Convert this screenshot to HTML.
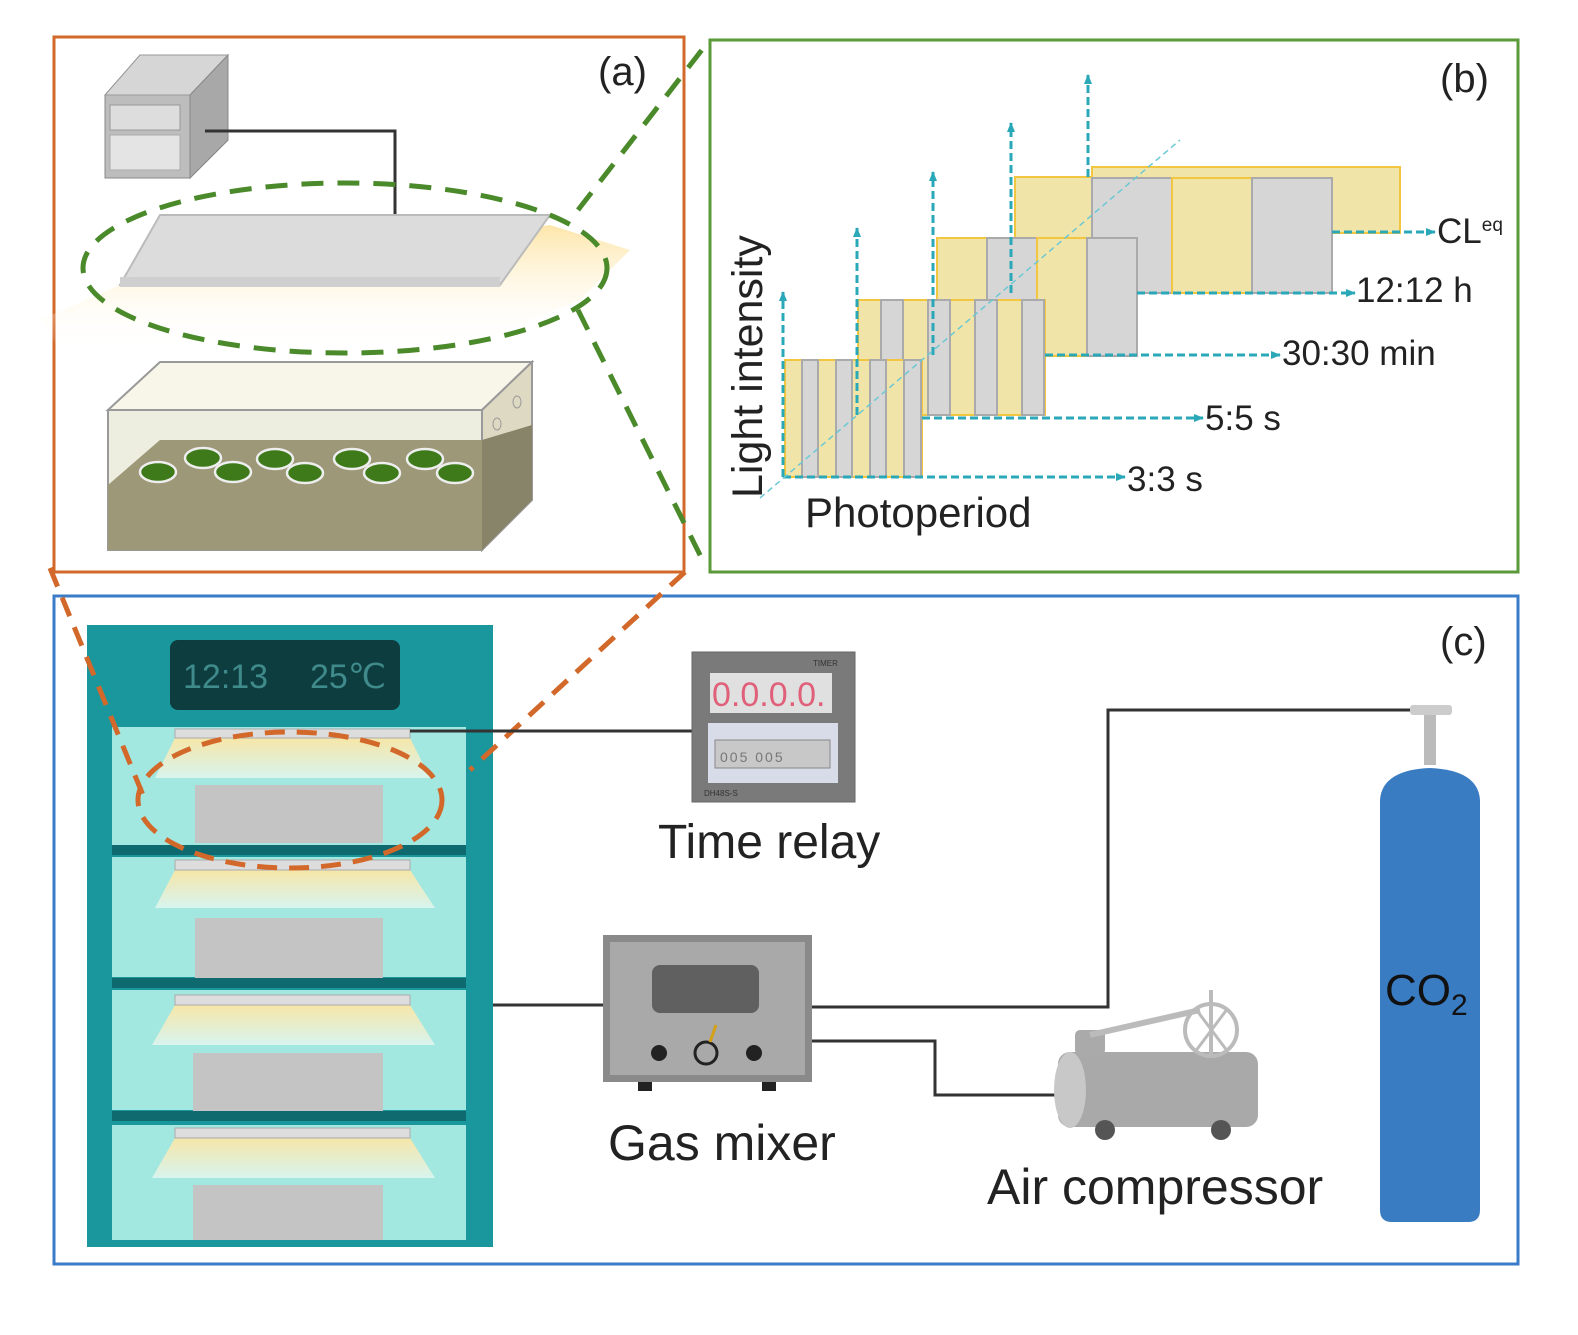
<!DOCTYPE html>
<html><head><meta charset="utf-8"><style>html,body{margin:0;padding:0;background:#fff}svg{display:block}text{font-family:"Liberation Sans",sans-serif}</style></head>
<body>
<svg width="1578" height="1335" viewBox="0 0 1578 1335" xmlns="http://www.w3.org/2000/svg">
<defs>
<linearGradient id="glow" x1="0" y1="0" x2="0" y2="1"><stop offset="0" stop-color="#fde3a0"/><stop offset="1" stop-color="#fff" stop-opacity="0"/></linearGradient>
<linearGradient id="glow2" x1="0" y1="0" x2="0" y2="1"><stop offset="0" stop-color="#f6e6a8"/><stop offset="1" stop-color="#d8f4ee"/></linearGradient>
<marker id="ar" markerUnits="userSpaceOnUse" markerWidth="12" markerHeight="12" refX="9" refY="6" orient="auto"><path d="M0,2 L10,6 L0,10z" fill="#2aa8b8"/></marker>
</defs>

<!-- Panel A -->
<rect x="54" y="37" width="630" height="535" fill="none" stroke="#d2692a" stroke-width="3"/>
<text x="598" y="85" font-size="40" fill="#222">(a)</text>
<polygon points="105,95 140,55 228,55 228,140 190,178 105,178" fill="#bdbdbd" stroke="#888"/>
<polygon points="105,95 140,55 228,55 190,95" fill="#d6d6d6" stroke="#999"/>
<polygon points="190,95 228,55 228,140 190,178" fill="#a8a8a8" stroke="#888"/>
<rect x="110" y="105" width="70" height="25" fill="#ddd" stroke="#999"/>
<rect x="110" y="135" width="70" height="35" fill="#e4e4e4" stroke="#aaa"/>
<polyline points="205,131 395,131 395,216" fill="none" stroke="#333" stroke-width="3"/>
<polygon points="40,320 120,285 550,225 630,250 580,300 470,345 60,350" fill="url(#glow)" opacity="0.9"/>
<polygon points="120,285 160,215 550,215 500,285" fill="#dcdcdc" stroke="#bbb" stroke-width="2"/>
<rect x="120" y="277" width="380" height="10" fill="#cfcfcf"/>
<polygon points="108,410 160,362 532,362 482,410" fill="#f7f6e8" stroke="#999" stroke-width="2"/>
<rect x="108" y="410" width="374" height="140" fill="#eeeee0" stroke="#999" stroke-width="2"/>
<polygon points="482,410 532,362 532,500 482,550" fill="#ddd9c2" stroke="#999" stroke-width="2"/>
<polygon points="108,485 160,440 482,440 482,550 108,550" fill="#9c9878"/>
<polygon points="482,440 532,425 532,500 482,550" fill="#87846a"/>
<g fill="#3f7a1a" stroke="#eee" stroke-width="2.5">
<ellipse cx="158" cy="472" rx="18" ry="10"/><ellipse cx="203" cy="458" rx="18" ry="10"/><ellipse cx="233" cy="472" rx="18" ry="10"/>
<ellipse cx="275" cy="459" rx="18" ry="10"/><ellipse cx="305" cy="473" rx="18" ry="10"/><ellipse cx="352" cy="459" rx="18" ry="10"/>
<ellipse cx="382" cy="473" rx="18" ry="10"/><ellipse cx="425" cy="459" rx="18" ry="10"/><ellipse cx="455" cy="473" rx="18" ry="10"/>
</g>
<ellipse cx="497" cy="424" rx="4" ry="6" fill="none" stroke="#999"/><ellipse cx="517" cy="402" rx="4" ry="6" fill="none" stroke="#999"/>
<g stroke="#4a8a2a" stroke-width="5" stroke-dasharray="22,14" fill="none">
<ellipse cx="345" cy="268" rx="262" ry="85"/>
<line x1="578" y1="210" x2="708" y2="42"/>
<line x1="578" y1="310" x2="705" y2="565"/>
</g>

<!-- Panel B -->
<rect x="710" y="40" width="808" height="532" fill="none" stroke="#5a9a3a" stroke-width="3"/>
<text x="1440" y="92" font-size="40" fill="#222">(b)</text>
<g stroke-width="2">
<rect x="1092" y="167" width="308" height="66" fill="#f1e4a8" stroke="#f2c640"/>
<rect x="1015" y="177" width="77" height="116" fill="#f1e4a8" stroke="#f2c640"/>
<rect x="1092" y="178" width="80" height="115" fill="#d6d6d6" stroke="#aaa"/>
<rect x="1172" y="178" width="80" height="115" fill="#f1e4a8" stroke="#f2c640"/>
<rect x="1252" y="178" width="80" height="115" fill="#d6d6d6" stroke="#aaa"/>
<rect x="937" y="238" width="50" height="118" fill="#f1e4a8" stroke="#f2c640"/>
<rect x="987" y="238" width="50" height="118" fill="#d6d6d6" stroke="#aaa"/>
<rect x="1037" y="238" width="50" height="118" fill="#f1e4a8" stroke="#f2c640"/>
<rect x="1087" y="238" width="50" height="118" fill="#d6d6d6" stroke="#aaa"/>
<rect x="858" y="300" width="187" height="115" fill="#f1e4a8" stroke="#f2c640"/>
<g fill="#d6d6d6" stroke="#aaa"><rect x="881" y="300" width="22" height="115"/><rect x="928" y="300" width="22" height="115"/><rect x="975" y="300" width="22" height="115"/><rect x="1022" y="300" width="22" height="115"/></g>
<rect x="785" y="360" width="137" height="117" fill="#f1e4a8" stroke="#f2c640"/>
<g fill="#d6d6d6" stroke="#aaa"><rect x="802" y="360" width="16" height="117"/><rect x="836" y="360" width="16" height="117"/><rect x="870" y="360" width="16" height="117"/><rect x="904" y="360" width="17" height="117"/></g>
</g>
<g stroke="#2aa8b8" stroke-width="3" stroke-dasharray="8,4" fill="none" marker-end="url(#ar)">
<line x1="783" y1="477" x2="783" y2="292"/>
<line x1="857" y1="415" x2="857" y2="228"/>
<line x1="933" y1="355" x2="933" y2="172"/>
<line x1="1011" y1="293" x2="1011" y2="123"/>
<line x1="1088" y1="177" x2="1088" y2="75"/>
<line x1="783" y1="477" x2="1125" y2="477"/>
<line x1="922" y1="418" x2="1203" y2="418"/>
<line x1="1045" y1="355" x2="1280" y2="355"/>
<line x1="1137" y1="293" x2="1355" y2="293"/>
<line x1="1332" y1="232" x2="1435" y2="232"/>
</g>
<line x1="760" y1="498" x2="1180" y2="140" stroke="#6cc8d4" stroke-width="1.5" stroke-dasharray="6,4"/>
<g font-size="35" fill="#222">
<text x="1127" y="491">3:3 s</text><text x="1205" y="430">5:5 s</text><text x="1282" y="365">30:30 min</text>
<text x="1356" y="302">12:12 h</text><text x="1437" y="243">CL<tspan font-size="19" dy="-12">eq</tspan></text>
<text x="805" y="527" font-size="42">Photoperiod</text>
<text transform="translate(762,498) rotate(-90)" font-size="43">Light intensity</text>
</g>

<!-- Panel C -->
<rect x="54" y="596" width="1464" height="668" fill="none" stroke="#3a7cc8" stroke-width="3"/>
<text x="1440" y="655" font-size="40" fill="#222">(c)</text>
<rect x="87" y="625" width="406" height="622" fill="#19979d"/>
<rect x="170" y="640" width="230" height="70" rx="8" fill="#0e3d40"/>
<text x="183" y="688" font-size="34" fill="#3f8a8a">12:13</text><text x="310" y="688" font-size="34" fill="#3f8a8a">25℃</text>
<g>
<rect x="112" y="727" width="354" height="118" fill="#a2e8e0"/>
<rect x="112" y="857" width="354" height="120" fill="#a2e8e0"/>
<rect x="112" y="990" width="354" height="120" fill="#a2e8e0"/>
<rect x="112" y="1125" width="354" height="115" fill="#a2e8e0"/>
<rect x="112" y="845" width="354" height="10" fill="#0f6a70"/>
<rect x="112" y="978" width="354" height="10" fill="#0f6a70"/>
<rect x="112" y="1111" width="354" height="10" fill="#0f6a70"/>
</g>
<g>
<polygon points="175,738 410,738 430,778 155,778" fill="url(#glow2)"/>
<rect x="175" y="729" width="235" height="9" fill="#ddd" stroke="#aaa"/>
<rect x="195" y="785" width="188" height="58" fill="#c4c4c4"/>
<polygon points="175,870 410,870 435,908 155,908" fill="url(#glow2)"/>
<rect x="175" y="860" width="235" height="10" fill="#ddd" stroke="#aaa"/>
<rect x="195" y="918" width="188" height="60" fill="#c4c4c4"/>
<polygon points="175,1005 410,1005 435,1045 152,1045" fill="url(#glow2)"/>
<rect x="175" y="995" width="235" height="10" fill="#ddd" stroke="#aaa"/>
<rect x="193" y="1053" width="190" height="58" fill="#c4c4c4"/>
<polygon points="175,1138 410,1138 435,1178 152,1178" fill="url(#glow2)"/>
<rect x="175" y="1128" width="235" height="10" fill="#ddd" stroke="#aaa"/>
<rect x="193" y="1185" width="190" height="55" fill="#c4c4c4"/>
</g>
<g stroke="#d2692a" stroke-width="5" stroke-dasharray="20,12" fill="none">
<ellipse cx="290" cy="800" rx="152" ry="68"/>
<line x1="50" y1="568" x2="145" y2="800"/>
<line x1="685" y1="572" x2="470" y2="770"/>
</g>
<g stroke="#333" stroke-width="3" fill="none">
<line x1="410" y1="731" x2="692" y2="731"/>
<line x1="493" y1="1005" x2="603" y2="1005"/>
<polyline points="812,1007 1108,1007 1108,710 1420,710"/>
<polyline points="812,1041 935,1041 935,1095 1055,1095"/>
</g>
<rect x="692" y="652" width="163" height="150" fill="#7a7a7a" stroke="#666"/>
<rect x="710" y="673" width="122" height="40" fill="#e0e0e0"/>
<text x="712" y="706" font-size="34" fill="#e0607a">0.0.0.0.</text>
<rect x="708" y="723" width="130" height="60" fill="#d8dce8"/>
<rect x="715" y="740" width="115" height="28" fill="#c8c8c8" stroke="#888"/>
<text x="720" y="762" font-size="14" fill="#777" letter-spacing="2">005 005</text>
<text x="813" y="666" font-size="8" fill="#333">TIMER</text>
<text x="704" y="796" font-size="8" fill="#333">DH48S-S</text>
<text x="658" y="858" font-size="48" fill="#222">Time relay</text>
<rect x="603" y="935" width="209" height="147" fill="#8a8a8a"/>
<rect x="610" y="942" width="195" height="133" fill="#a9a9a9"/>
<rect x="652" y="965" width="107" height="48" rx="8" fill="#606060"/>
<circle cx="659" cy="1053" r="8" fill="#222"/><circle cx="706" cy="1053" r="11" fill="none" stroke="#222" stroke-width="3"/><circle cx="754" cy="1053" r="8" fill="#222"/>
<line x1="710" y1="1042" x2="716" y2="1025" stroke="#d4a017" stroke-width="3"/>
<rect x="638" y="1082" width="14" height="9" fill="#222"/><rect x="762" y="1082" width="14" height="9" fill="#222"/>
<text x="608" y="1160" font-size="50" fill="#222">Gas mixer</text>
<rect x="1058" y="1052" width="200" height="75" rx="12" fill="#a9a9a9"/>
<ellipse cx="1070" cy="1090" rx="16" ry="38" fill="#c8c8c8"/>
<rect x="1075" y="1030" width="30" height="25" rx="5" fill="#aaa"/>
<line x1="1090" y1="1035" x2="1200" y2="1010" stroke="#bbb" stroke-width="6"/>
<circle cx="1211" cy="1030" r="26" fill="none" stroke="#bbb" stroke-width="4"/>
<line x1="1211" y1="990" x2="1211" y2="1055" stroke="#bbb" stroke-width="4"/>
<line x1="1195" y1="1052" x2="1228" y2="1008" stroke="#bbb" stroke-width="3"/><line x1="1195" y1="1008" x2="1228" y2="1052" stroke="#bbb" stroke-width="3"/>
<circle cx="1105" cy="1130" r="10" fill="#555"/><circle cx="1221" cy="1130" r="10" fill="#555"/>
<text x="987" y="1204" font-size="50" fill="#222">Air compressor</text>
<rect x="1410" y="705" width="42" height="10" rx="3" fill="#ccc"/>
<rect x="1424" y="715" width="12" height="50" fill="#bbb"/>
<path d="M1380,800 Q1382,770 1430,768 Q1478,770 1480,800 L1480,1210 Q1480,1222 1468,1222 L1392,1222 Q1380,1222 1380,1210 Z" fill="#3a7cc2"/>
<text x="1385" y="1005" font-size="44" fill="#111">CO<tspan font-size="30" dy="10">2</tspan></text>
</svg>
</body></html>
